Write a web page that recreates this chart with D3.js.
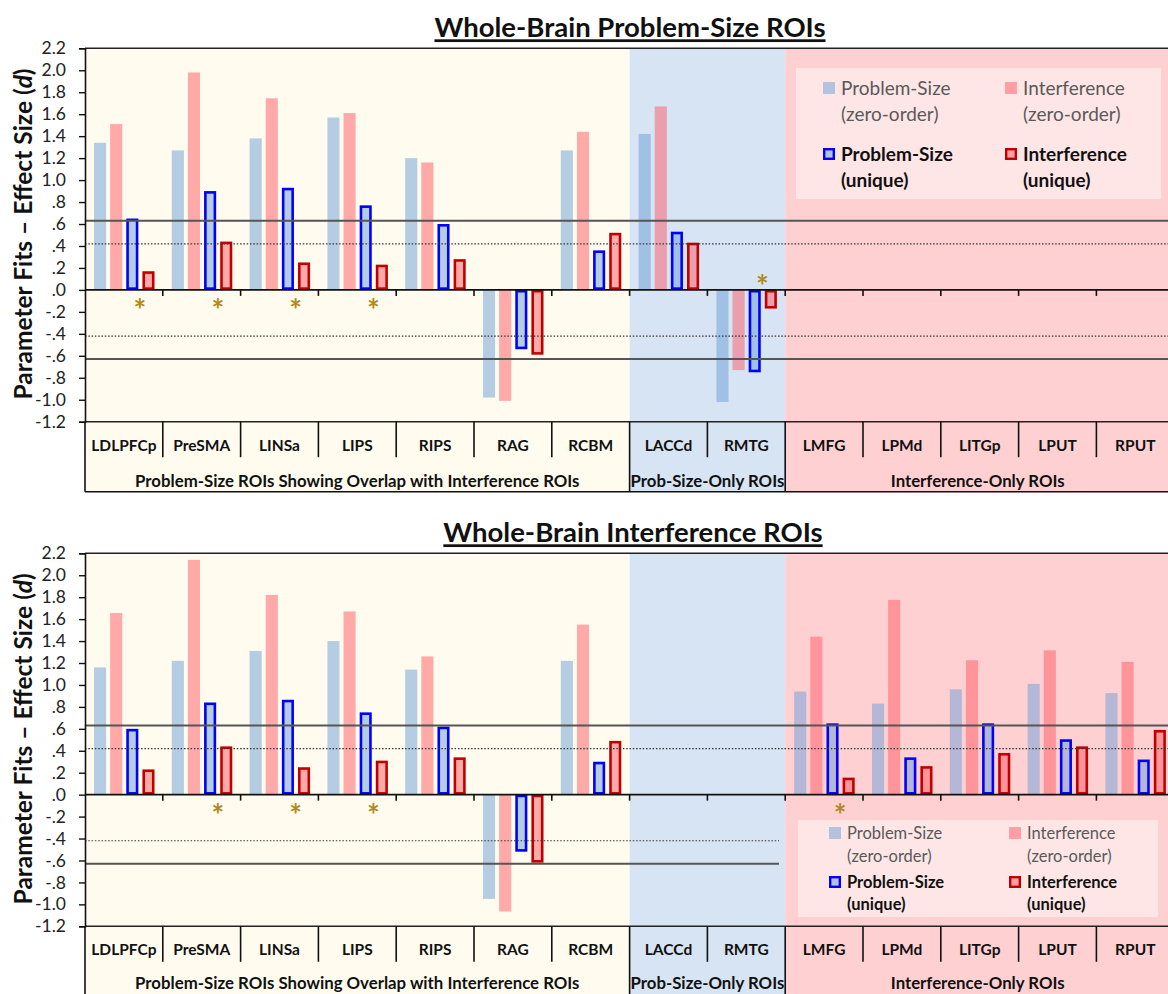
<!DOCTYPE html>
<html><head><meta charset="utf-8">
<script src="https://cdn.jsdelivr.net/npm/d3@7"></script>
<style>
body{margin:0;background:#fff;}
svg{display:block;font-family:Lato,"Open Sans",sans-serif;}
</style></head><body>
<svg id="chart" width="1168" height="994"></svg>
<script>
// ---------- data ----------
const categories = ["LDLPFCp","PreSMA","LINSa","LIPS","RIPS","RAG","RCBM","LACCd","RMTG","LMFG","LPMd","LITGp","LPUT","RPUT"];
const groupLabels = ["Problem-Size ROIs Showing Overlap with Interference ROIs","Prob-Size-Only ROIs","Interference-Only ROIs"];
const groupSizes = [7,2,5];
const yTickValues = [2.2,2.0,1.8,1.6,1.4,1.2,1.0,0.8,0.6,0.4,0.2,0,-0.2,-0.4,-0.6,-0.8,-1.0,-1.2];
const yTickLabels = ["2.2","2.0","1.8","1.6","1.4","1.2","1.0",".8",".6",".4",".2",".0","-.2","-.4","-.6","-.8","-1.0","-1.2"];
const seriesNames = ["Problem-Size (zero-order)","Interference (zero-order)","Problem-Size (unique)","Interference (unique)"];
const refSolid = 0.63;
const refDotted = 0.42;

// Panel 1: Whole-Brain Problem-Size ROIs
const titleTop = "Whole-Brain Problem-Size ROIs";
const psZeroTop    = [1.34,1.27,1.38,1.57,1.20,-0.98,1.27,1.42,-1.02,null,null,null,null,null];
const intZeroTop   = [1.51,1.98,1.745,1.61,1.16,-1.01,1.44,1.67,-0.73,null,null,null,null,null];
const psUniqueTop  = [0.65,0.90,0.93,0.77,0.60,-0.54,0.36,0.53,-0.75,null,null,null,null,null];
const intUniqueTop = [0.17,0.44,0.25,0.23,0.28,-0.59,0.52,0.43,-0.17,null,null,null,null,null];
const sigTop = ["LDLPFCp","PreSMA","LINSa","LIPS","RMTG"];

// Panel 2: Whole-Brain Interference ROIs
const titleBot = "Whole-Brain Interference ROIs";
const psZeroBot    = [1.16,1.22,1.31,1.40,1.14,-0.95,1.22,null,null,0.94,0.83,0.96,1.01,0.925];
const intZeroBot   = [1.655,2.14,1.82,1.67,1.26,-1.065,1.55,null,null,1.44,1.775,1.225,1.315,1.21];
const psUniqueBot  = [0.60,0.84,0.865,0.75,0.62,-0.52,0.30,null,null,0.65,0.34,0.65,0.505,0.32];
const intUniqueBot = [0.23,0.44,0.25,0.31,0.34,-0.62,0.49,null,null,0.155,0.26,0.38,0.44,0.59];
const sigBot = ["PreSMA","LINSa","LIPS","LMFG"];

// ---------- styles ----------
const groupColors = ["#fffcef","#d6e4f3","#ffd0d2"];
const barFill = ["rgba(105,158,216,0.5)","rgba(255,88,100,0.5)","rgba(105,158,216,0.5)","rgba(255,88,100,0.5)"];
const barStroke = [null,null,"#0000ff","#c00000"];
const starColor = "#b08a1c";

const svg = d3.select("#chart");
const left = 85, catW = 77.8;
const x = d3.scaleBand().domain(categories).range([left, left + catW*categories.length]).padding(0);
const inner = d3.scaleBand().domain([0,1,2,3]).range([9,69.5]).paddingInner(0.25);
const rightEnd = left + catW*categories.length;

const groupStarts = [];
{ let s=0; groupSizes.forEach(n=>{groupStarts.push(s); s+=n;}); }

function drawPanel(cfg){
  const g = svg.append("g");
  const y = d3.scaleLinear().domain([-1.2,2.2]).range([cfg.bottom, cfg.top]);
  const labBottom = cfg.bottom + 70;
  const divBottom = cfg.bottom + 35.5;

  groupSizes.forEach((n,k)=>{
    const x0 = x(categories[groupStarts[k]]);
    g.append("rect").attr("x",x0).attr("y",cfg.top).attr("width",n*catW).attr("height",labBottom-cfg.top)
      .attr("fill",groupColors[k]);
  });

  cfg.series.forEach((vals,j)=>{
    const sw = barStroke[j] ? 2.6 : 0;
    g.append("g").selectAll("rect").data(vals.map((v,i)=>({v,c:categories[i]})).filter(d=>d.v!==null))
      .join("rect")
      .attr("x",d=>x(d.c)+inner(j)+sw/2)
      .attr("width",inner.bandwidth()-sw)
      .attr("y",d=>Math.min(y(d.v),y(0))+sw/2)
      .attr("height",d=>Math.max(0,Math.abs(y(d.v)-y(0))-sw))
      .attr("fill",barFill[j])
      .attr("stroke",barStroke[j]||"none")
      .attr("stroke-width",sw);
  });

  const refG = g.append("g");
  [[refSolid,rightEnd],[-refSolid,cfg.negEnd]].forEach(([v,xe])=>{
    refG.append("line").attr("x1",left).attr("x2",xe).attr("y1",y(v)).attr("y2",y(v))
      .attr("stroke","#555").attr("stroke-width",2);
  });
  [[refDotted,rightEnd],[-refDotted,cfg.negEnd]].forEach(([v,xe])=>{
    refG.append("line").attr("x1",left).attr("x2",xe).attr("y1",y(v)).attr("y2",y(v))
      .attr("stroke","#333").attr("stroke-width",1.2).attr("stroke-dasharray","1.5,1.8");
  });

  g.append("line").attr("x1",left).attr("x2",rightEnd).attr("y1",y(0)).attr("y2",y(0))
    .attr("stroke","#111").attr("stroke-width",1.6);
  categories.forEach((c,i)=>{ if(i>0){
    g.append("line").attr("x1",x(c)).attr("x2",x(c)).attr("y1",y(0)).attr("y2",y(0)+6)
      .attr("stroke","#111").attr("stroke-width",1.6);
  }});

  g.append("line").attr("x1",left).attr("x2",rightEnd).attr("y1",cfg.top).attr("y2",cfg.top).attr("stroke","#222").attr("stroke-width",1.6);
  g.append("line").attr("x1",left).attr("x2",rightEnd).attr("y1",cfg.bottom).attr("y2",cfg.bottom).attr("stroke","#222").attr("stroke-width",1.6);

  const ax = g.append("g").attr("transform",`translate(${left},0)`)
    .call(d3.axisLeft(y).tickValues(yTickValues).tickFormat((d,i)=>yTickLabels[i]).tickSize(6).tickPadding(13));
  ax.select(".domain").attr("stroke","#111").attr("stroke-width",1.6);
  ax.selectAll(".tick line").attr("stroke","#111").attr("stroke-width",1.4);
  ax.selectAll(".tick text").attr("font-size",17.5).attr("fill","#222").attr("font-family","Lato");

  const yt = g.append("text").attr("transform",`translate(32,${(cfg.top+cfg.bottom)/2 - 1}) rotate(-90)`)
    .attr("text-anchor","middle").attr("font-weight","bold").attr("font-size",24.5).attr("fill","#111");
  yt.append("tspan").text("Parameter Fits  \u2013 Effect Size (");
  yt.append("tspan").attr("font-style","italic").text("d");
  yt.append("tspan").text(")");

  cfg.sig.forEach(c=>{
    const i = categories.indexOf(c);
    const neg = cfg.series[2][i] < 0;
    g.append("text").attr("x",x(c)+55).attr("y", neg ? y(0)+7 : y(0)+31)
      .attr("text-anchor","middle").attr("font-size",30).attr("font-weight","bold").attr("fill",starColor).text("*");
  });

  const la = g.append("g");
  la.append("line").attr("x1",left).attr("x2",left).attr("y1",cfg.bottom).attr("y2",labBottom).attr("stroke","#111").attr("stroke-width",1.6);
  la.append("line").attr("x1",left).attr("x2",rightEnd).attr("y1",labBottom).attr("y2",labBottom).attr("stroke","#111").attr("stroke-width",1.6);
  categories.forEach((c,i)=>{
    if(i>0){
      const full = groupStarts.includes(i);
      la.append("line").attr("x1",x(c)).attr("x2",x(c)).attr("y1",cfg.bottom).attr("y2",full?labBottom:divBottom)
        .attr("stroke","#111").attr("stroke-width",1.6);
    }
    la.append("text").attr("x",x(c)+catW/2).attr("y",cfg.bottom+29).attr("text-anchor","middle")
      .attr("font-weight","bold").attr("font-size",15.5).attr("fill","#111").text(c);
  });
  groupLabels.forEach((lab,k)=>{
    const x0 = x(categories[groupStarts[k]]);
    la.append("text").attr("x",x0 + groupSizes[k]*catW/2 - (k===2?2:0)).attr("y",cfg.bottom+cfg.groupDy).attr("text-anchor","middle")
      .attr("font-weight","bold").attr("font-size",16.8).attr("fill","#111").text(lab);
  });

  g.append("text").attr("x",cfg.titleX).attr("y",cfg.top-11).attr("text-anchor","middle")
    .attr("font-weight","bold").attr("font-size",27.5).attr("fill","#111")
    .style("text-decoration","underline").text(cfg.title);

  const L = cfg.legend;
  const lg = g.append("g");
  lg.append("rect").attr("x",L.x).attr("y",L.y).attr("width",L.w).attr("height",L.h).attr("fill","#ffe6e6");
  const items = [
    {col:0,row:0,j:0,l1:"Problem-Size",l2:"(zero-order)"},
    {col:1,row:0,j:1,l1:"Interference",l2:"(zero-order)"},
    {col:0,row:1,j:2,l1:"Problem-Size",l2:"(unique)"},
    {col:1,row:1,j:3,l1:"Interference",l2:"(unique)"}
  ];
  items.forEach(it=>{
    const tx = L.textX[it.col], sx = tx - L.sq - 6;
    const r1 = L.rows[it.row*2], r2 = L.rows[it.row*2+1];
    const bold = it.row===1;
    if(bold){
      lg.append("rect").attr("x",sx+1.2).attr("y",r1-L.sq/2+1.2).attr("width",L.sq-2.4).attr("height",L.sq-2.4)
        .attr("fill",barFill[it.j]).attr("stroke",barStroke[it.j]).attr("stroke-width",2.4);
    } else {
      lg.append("rect").attr("x",sx).attr("y",r1-L.sq/2).attr("width",L.sq).attr("height",L.sq).attr("fill",barFill[it.j]);
    }
    [ [it.l1,r1],[it.l2,r2] ].forEach(([t,yy])=>{
      lg.append("text").attr("x",tx).attr("y",yy).attr("dy","0.35em").attr("font-size",L.fs)
        .attr("font-weight",bold?"bold":"normal").attr("fill",bold?"#111":"#595959").text(t);
    });
  });
}

drawPanel({
  title:titleTop, titleX:630, top:48.3, bottom:421.7, groupDy:65.5,
  series:[psZeroTop,intZeroTop,psUniqueTop,intUniqueTop], sig:sigTop, negEnd:rightEnd,
  legend:{x:796,y:68,w:365,h:131,textX:[841,1023],rows:[88,114,154,180],sq:12,fs:19}
});
drawPanel({
  title:titleBot, titleX:633, top:553.3, bottom:926.3, groupDy:62.5,
  series:[psZeroBot,intZeroBot,psUniqueBot,intUniqueBot], sig:sigBot, negEnd:779,
  legend:{x:798,y:820,w:360,h:97,textX:[847,1027],rows:[833,856,882,904],sq:12,fs:16.5}
});
</script>
</body></html>
